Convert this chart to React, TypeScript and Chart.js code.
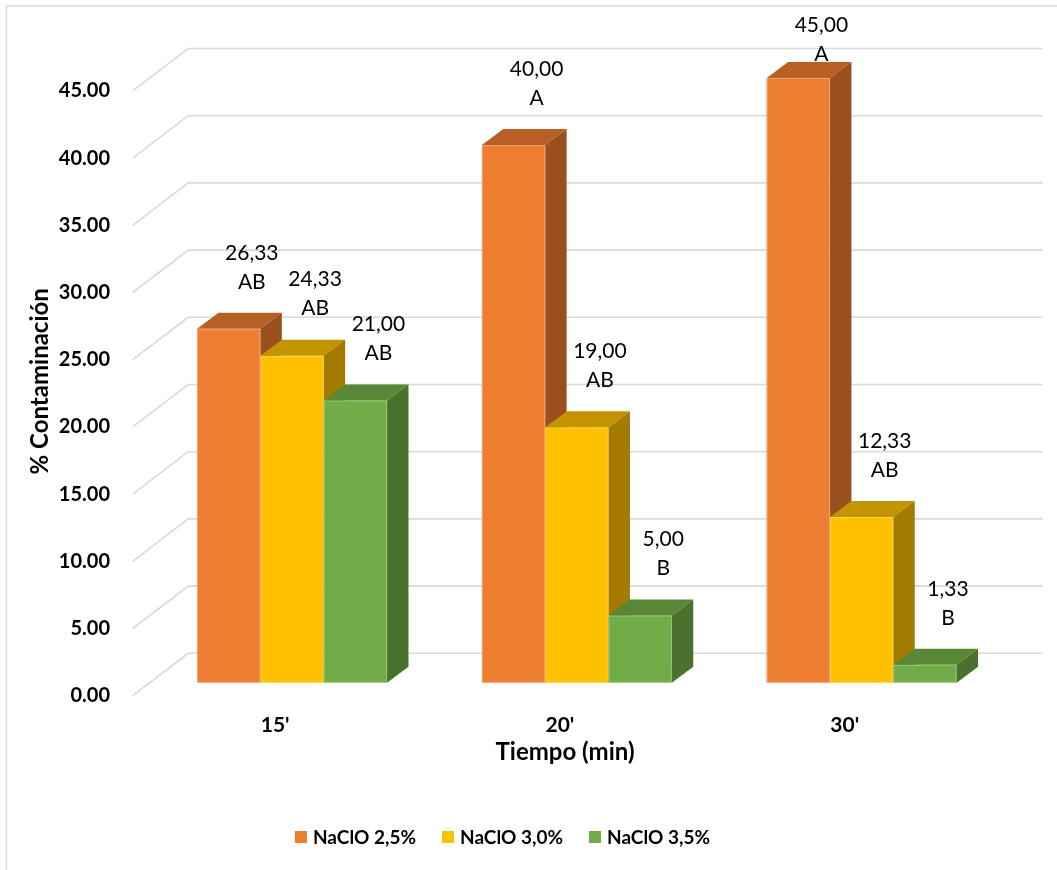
import React, { useEffect, useRef } from "react";
import { Chart, registerables } from "chart.js";

Chart.register(...registerables);

// Contamination (%) by immersion time and NaClO concentration
const categories = ["15'", "20'", "30'"];
const seriesNames = ["NaClO 2,5%", "NaClO 3,0%", "NaClO 3,5%"];
const naclo25 = [26.33, 40.0, 45.0];
const naclo30 = [24.33, 19.0, 12.33];
const naclo35 = [21.0, 5.0, 1.33];
const letters25 = ["AB", "A", "A"];
const letters30 = ["AB", "AB", "AB"];
const letters35 = ["AB", "B", "B"];
const yTicks = [0, 5, 10, 15, 20, 25, 30, 35, 40, 45];

const W = 1057;
const H = 870;
const FONT = "Lato, 'Open Sans', sans-serif";

// face colours: front, top, side
const palette = [
  { front: "#ED7D31", top: "#B75F25", side: "#9A4F1F" },
  { front: "#FFC000", top: "#C49300", side: "#A37B00" },
  { front: "#70AD47", top: "#588836", side: "#4A722E" },
];
const letterSets = [letters25, letters30, letters35];

// projection offsets relative to the bar plane
const FRONT = { dx: -17, dy: 13 };
const BACK = { dx: 38.5, dy: -29.4 };
const BAR = { dx: 21.4, dy: -16 };

const fmt = (v: number) => v.toFixed(2).replace(".", ",");

const threeD = {
  id: "threeD",
  beforeDatasetsDraw(chart: any) {
    const { ctx, chartArea, scales } = chart;
    const y = scales.y;
    ctx.save();
    // chart frame
    ctx.strokeStyle = "#d9d9d9";
    ctx.lineWidth = 1.5;
    ctx.strokeRect(6.5, 6, W + 20, H + 20);

    // side wall + back wall gridlines
    ctx.strokeStyle = "#d9d9d9";
    ctx.lineWidth = 1.6;
    for (const v of yTicks) {
      const py = y.getPixelForValue(v);
      ctx.beginPath();
      ctx.moveTo(chartArea.left + FRONT.dx, py + FRONT.dy);
      ctx.lineTo(chartArea.left + BACK.dx, py + BACK.dy);
      ctx.lineTo(chartArea.right + BACK.dx, py + BACK.dy);
      ctx.stroke();
    }

    // value axis labels
    ctx.fillStyle = "#000";
    ctx.font = `bold 20px ${FONT}`;
    ctx.textAlign = "right";
    ctx.textBaseline = "middle";
    for (const v of yTicks) {
      const py = y.getPixelForValue(v);
      ctx.fillText(v.toFixed(2), 110, py + FRONT.dy);
    }
    ctx.restore();
  },
  afterDatasetsDraw(chart: any) {
    const { ctx } = chart;
    const metas = chart.data.datasets.map((_: any, j: number) => chart.getDatasetMeta(j));
    ctx.save();
    for (let i = 0; i < categories.length; i++) {
      for (let j = 0; j < metas.length; j++) {
        const el = metas[j].data[i];
        const c = palette[j];
        const l = el.x - el.width / 2;
        const r = el.x + el.width / 2;
        const t = el.y;
        const b = el.base;
        // front
        ctx.fillStyle = c.front;
        ctx.fillRect(l, t, r - l, b - t);
        // top
        ctx.fillStyle = c.top;
        ctx.beginPath();
        ctx.moveTo(l, t);
        ctx.lineTo(r, t);
        ctx.lineTo(r + BAR.dx, t + BAR.dy);
        ctx.lineTo(l + BAR.dx, t + BAR.dy);
        ctx.closePath();
        ctx.fill();
        // side
        ctx.fillStyle = c.side;
        ctx.beginPath();
        ctx.moveTo(r, t);
        ctx.lineTo(r + BAR.dx, t + BAR.dy);
        ctx.lineTo(r + BAR.dx, b + BAR.dy);
        ctx.lineTo(r, b);
        ctx.closePath();
        ctx.fill();
        // soft edge highlight
        ctx.strokeStyle = "rgba(255,255,255,0.3)";
        ctx.lineWidth = 1;
        ctx.strokeRect(l + 0.5, t + 0.5, r - l - 1, b - t - 1);
      }
    }

    // value + letter labels
    ctx.fillStyle = "#000";
    ctx.font = `21px ${FONT}`;
    ctx.textAlign = "center";
    ctx.textBaseline = "middle";
    for (let i = 0; i < categories.length; i++) {
      for (let j = 0; j < metas.length; j++) {
        const el = metas[j].data[i];
        const value = chart.data.datasets[j].data[i];
        const lx = el.x + 23;
        let line2 = el.y - 47;
        let line1 = line2 - 29;
        if (line1 < 25) {
          line2 += 25 - line1;
          line1 = 25;
        }
        ctx.fillText(fmt(value), lx, line1);
        ctx.fillText(letterSets[j][i], lx, line2);
      }
    }
    ctx.restore();
  },
  afterDraw(chart: any) {
    const { ctx, chartArea, scales } = chart;
    const x = scales.x;
    const y = scales.y;
    ctx.save();
    ctx.fillStyle = "#000";
    ctx.textBaseline = "middle";
    ctx.textAlign = "center";

    // category labels
    ctx.font = `bold 21px ${FONT}`;
    categories.forEach((cat, i) => {
      ctx.fillText(cat, x.getPixelForValue(i) + FRONT.dx, 725);
    });

    // axis titles
    ctx.font = `bold 24px ${FONT}`;
    ctx.fillText("Tiempo (min)", (chartArea.left + chartArea.right) / 2 + FRONT.dx * 0.7, 752);
    const midY = (y.getPixelForValue(0) + y.getPixelForValue(45)) / 2 + FRONT.dy - 12;
    ctx.save();
    ctx.translate(40, midY);
    ctx.rotate(-Math.PI / 2);
    ctx.fillText("% Contaminación", 0, 0);
    ctx.restore();

    // legend
    ctx.font = `bold 19px ${FONT}`;
    ctx.textAlign = "left";
    const sq = 12;
    const gapText = 6;
    const gapItem = 26;
    const widths = seriesNames.map((n) => ctx.measureText(n).width);
    const total = widths.reduce((a, w) => a + sq + gapText + w, 0) + gapItem * (seriesNames.length - 1);
    let lx = 502.5 - total / 2;
    const ly = 837;
    seriesNames.forEach((n, j) => {
      ctx.fillStyle = palette[j].front;
      ctx.fillRect(lx, ly - sq / 2, sq, sq);
      ctx.fillStyle = "#000";
      ctx.fillText(n, lx + sq + gapText, ly + 1);
      lx += sq + gapText + widths[j] + gapItem;
    });
    ctx.restore();
  },
};

export default function App() {
  const canvasRef = useRef<HTMLCanvasElement | null>(null);

  useEffect(() => {
    const canvas = canvasRef.current;
    if (!canvas) return;
    const values = [naclo25, naclo30, naclo35];
    const chart = new Chart(canvas, {
      type: "bar",
      data: {
        labels: categories,
        datasets: seriesNames.map((name, j) => ({
          label: name,
          data: values[j],
          backgroundColor: palette[j].front,
          categoryPercentage: 0.667,
          barPercentage: 1,
        })),
      },
      options: {
        responsive: false,
        devicePixelRatio: 1,
        animation: false,
        layout: { padding: { left: 149.7, top: 77.9, right: 52.9, bottom: 187.3 } },
        plugins: {
          legend: { display: false },
          tooltip: { enabled: false },
        },
        scales: {
          x: { display: false, offset: true },
          y: { display: false, min: 0, max: 45 },
        },
      },
      plugins: [threeD],
    });
    return () => chart.destroy();
  }, []);

  return (
    <div style={{ position: "absolute", left: 0, top: 0, width: W, height: H, background: "#fff" }}>
      <canvas ref={canvasRef} width={W} height={H} />
    </div>
  );
}
